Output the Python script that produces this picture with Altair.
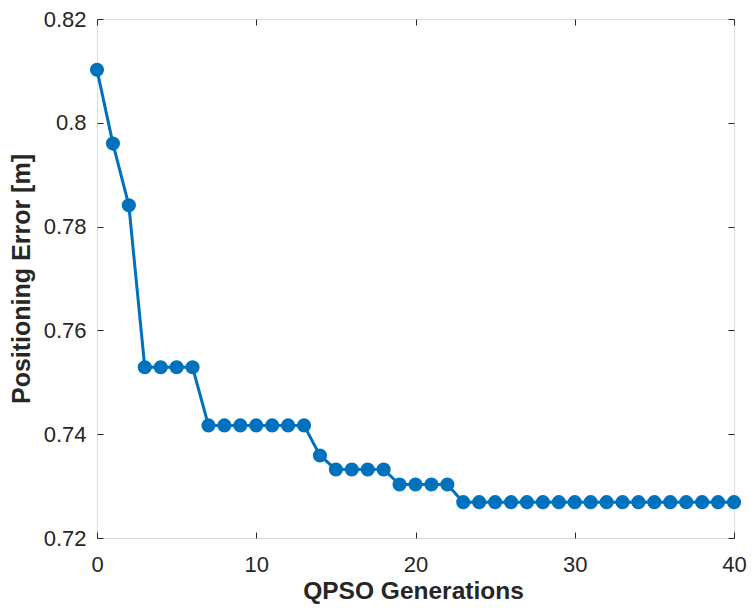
import altair as alt
import pandas as pd

generations = list(range(41))
errors = ([0.8102, 0.7960, 0.7841]
          + [0.7529] * 4
          + [0.7417] * 7
          + [0.7359]
          + [0.7332] * 4
          + [0.7303] * 4
          + [0.7269] * 18)
x_ticks = [0, 10, 20, 30, 40]
y_ticks = [0.72, 0.74, 0.76, 0.78, 0.80, 0.82]

df = pd.DataFrame({"gen": generations, "err": errors})

FONT = "Liberation Sans"
BLUE = "#0072BD"
INK = "#262626"

xscale = alt.Scale(domain=[0, 40], nice=False, zero=False)
yscale = alt.Scale(domain=[0.72, 0.82], nice=False, zero=False)

base = alt.Chart(df)

x_main = alt.X("gen:Q", scale=xscale, axis=alt.Axis(
    values=x_ticks, title="QPSO Generations", ticks=False, domain=False, grid=False,
    labelFlush=False, labelPadding=26, labelBaseline="middle", labelFontSize=22,
    labelFont=FONT, labelColor=INK,
    titleFontSize=24.5, titleFont=FONT, titleFontWeight="bold", titleColor=INK,
    titleX=316, titleY=53, titleBaseline="middle"))
y_main = alt.Y("err:Q", scale=yscale, axis=alt.Axis(
    values=y_ticks, format="~g", title="Positioning Error [m]", ticks=False, domain=False,
    grid=False, labelFlush=False, labelPadding=11, labelFontSize=22, labelFont=FONT,
    labelColor=INK,
    titleFontSize=25, titleFont=FONT, titleFontWeight="bold", titleColor=INK,
    titleX=-76, titleBaseline="middle"))

def tick_axis(vals, orient):
    return alt.Axis(values=vals, orient=orient, offset=-6, tickSize=6, tickWidth=1,
                    tickColor=INK, labels=False, domain=False, grid=False, title=None)

line = base.mark_line(color=BLUE, strokeWidth=3).encode(x=x_main, y=y_main)

pts = base.mark_circle(color=BLUE, size=200, opacity=1).encode(
    x=alt.X("gen:Q", scale=xscale, axis=tick_axis(x_ticks, "bottom")),
    y=alt.Y("err:Q", scale=yscale, axis=tick_axis(y_ticks, "left")))

ghost = base.mark_circle(opacity=0).encode(
    x=alt.X("gen:Q", scale=xscale, axis=tick_axis(x_ticks, "top")),
    y=alt.Y("err:Q", scale=yscale, axis=tick_axis(y_ticks, "right")))

chart = (alt.layer(line, pts, ghost)
         .resolve_axis(x="independent", y="independent")
         .properties(width=637, height=519,
                     autosize=alt.AutoSizeParams(type="none"),
                     padding={"left": 89, "top": 11, "right": 13, "bottom": 66})
         .configure_view(stroke=INK, strokeWidth=1)
         .configure(background="white"))

chart.save("out.html", embed_options={"renderer": "svg", "actions": False})
